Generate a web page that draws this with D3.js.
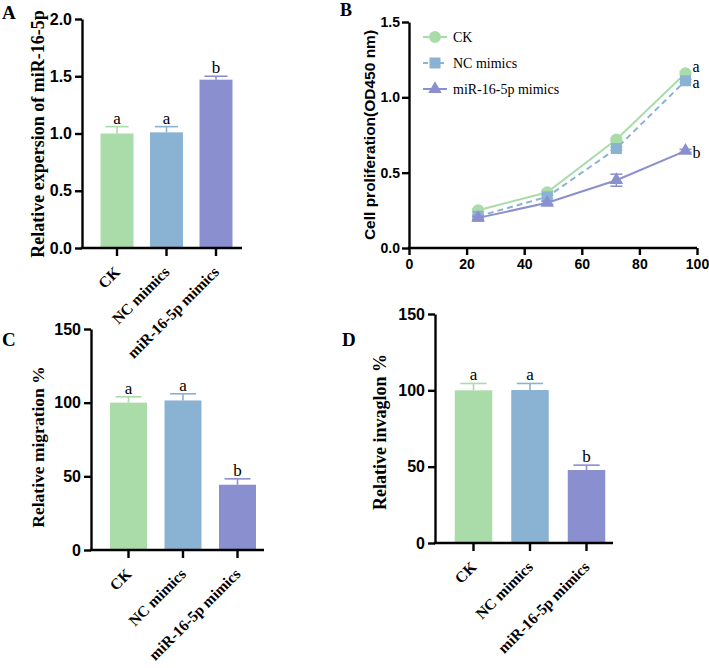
<!DOCTYPE html>
<html><head><meta charset="utf-8">
<script src="https://cdn.jsdelivr.net/npm/d3@7"></script>
<style>body{margin:0;background:#fff} svg{display:block}</style>
</head><body>
<svg id="chart" width="709" height="668"></svg>
<script>
// ---------- data ----------
const groups = ["CK", "NC mimics", "miR-16-5p mimics"];
const groupLetters = ["a", "a", "b"];

const expressionMean = [1.00, 1.01, 1.47];
const expressionErr  = [0.06, 0.05, 0.03];
const expressionTicks = [0, 0.5, 1.0, 1.5, 2.0];

const migrationMean = [100, 101.5, 44.3];
const migrationErr  = [4, 4.5, 4];
const invasionMean  = [100, 100.2, 47.8];
const invasionErr   = [4.5, 4.3, 3.2];
const percentTicks  = [0, 50, 100, 150];

const hours  = [24, 48, 72, 96];
const ckOD   = [0.25, 0.37, 0.72, 1.16];
const ncOD   = [0.21, 0.34, 0.66, 1.11];
const mirOD  = [0.20, 0.30, 0.45, 0.645];
const ckErr  = [0.01, 0.01, 0.01, 0.01];
const ncErr  = [0.01, 0.01, 0.01, 0.01];
const mirErr = [0.01, 0.01, 0.04, 0.01];
const hourTicks = [0, 20, 40, 60, 80, 100];
const odTicks = [0, 0.5, 1.0, 1.5];

// ---------- style ----------
const colors = ["#a9dca9", "#8ab3d3", "#8a8fcf"];
const SERIF = "'Liberation Serif','Times New Roman',serif";
const SANS = "'Liberation Sans',Arial,sans-serif";
const AXW = 2.4;

const svg = d3.select("#chart");

function styleAxis(a, fontSize) {
  a.selectAll(".domain").attr("stroke", "#000").attr("stroke-width", AXW);
  a.selectAll(".tick line").attr("stroke", "#000").attr("stroke-width", AXW);
  a.selectAll(".tick text").attr("font-family", SANS).attr("font-weight", "bold")
    .attr("font-size", fontSize).attr("fill", "#000");
}

function barPanel(cfg, means, errs, letters, ticks, fmt, yLabel) {
  const g = svg.append("g");
  const y = d3.scaleLinear().domain(cfg.domain).range([cfg.y0, cfg.y1]);
  const p = 1 - cfg.bw / cfg.step;
  const x = d3.scaleBand().domain(groups)
    .range([cfg.c0 - cfg.step / 2, cfg.c0 + cfg.step * (groups.length - 0.5)])
    .paddingInner(p).paddingOuter(p / 2);
  const bw = x.bandwidth();

  g.selectAll("rect.bar").data(groups).join("rect").attr("class", "bar")
    .attr("x", d => x(d)).attr("width", bw)
    .attr("y", (d, i) => y(means[i])).attr("height", (d, i) => y(0) - y(means[i]))
    .attr("fill", (d, i) => colors[i]);

  // error bars
  const eb = g.selectAll("g.err").data(groups).join("g").attr("class", "err")
    .attr("stroke", (d, i) => colors[i]).attr("stroke-width", 1.6);
  eb.append("line").attr("x1", d => x(d) + bw / 2).attr("x2", d => x(d) + bw / 2)
    .attr("y1", (d, i) => y(means[i])).attr("y2", (d, i) => y(means[i] + errs[i]));
  eb.append("line").attr("x1", d => x(d) + bw * 0.15).attr("x2", d => x(d) + bw * 0.85)
    .attr("y1", (d, i) => y(means[i] + errs[i])).attr("y2", (d, i) => y(means[i] + errs[i]));

  g.selectAll("text.sig").data(groups).join("text").attr("class", "sig")
    .attr("x", d => x(d) + bw / 2).attr("y", (d, i) => y(means[i] + errs[i]) - 3)
    .attr("text-anchor", "middle").attr("font-family", SERIF).attr("font-size", 17)
    .text((d, i) => letters[i]);

  const ya = g.append("g").attr("transform", `translate(${cfg.ax},0)`)
    .call(d3.axisLeft(y).tickValues(ticks).tickFormat(fmt).tickSize(7).tickSizeOuter(0).tickPadding(3));
  styleAxis(ya, 16);

  const xa = g.append("g").attr("transform", `translate(0,${cfg.y0})`)
    .call(d3.axisBottom(x).tickSize(8).tickSizeOuter(0));
  styleAxis(xa, 16);
  xa.select(".domain").attr("d", `M${cfg.ax - AXW / 2},0H${cfg.axEnd}`);
  xa.selectAll(".tick text").attr("x", 0).attr("y", 0).attr("dy", 0)
    .attr("transform", "translate(4,25) rotate(-45)").attr("text-anchor", "end")
    .attr("font-family", SERIF).attr("font-size", cfg.xfs);

  g.append("text").attr("transform", `translate(${cfg.lx},${cfg.ly}) rotate(-90)`)
    .attr("text-anchor", "middle").attr("dy", "0.35em")
    .attr("font-family", SERIF).attr("font-weight", "bold").attr("font-size", cfg.lfs)
    .text(yLabel);

  g.append("text").attr("x", cfg.px).attr("y", cfg.py)
    .attr("font-family", SERIF).attr("font-weight", "bold").attr("font-size", 19)
    .text(cfg.panel);
}

// Panel A
barPanel({panel: "A", px: 2, py: 19, domain: [0, 2], y0: 248, y1: 19, ax: 82, axEnd: 242,
          c0: 117, step: 49.5, bw: 33, lx: 38, ly: 134, lfs: 18, xfs: 15.5},
  expressionMean, expressionErr, groupLetters, expressionTicks, d3.format(".1f"),
  "Relative expersion of miR-16-5p");

// Panel C
barPanel({panel: "C", px: 2, py: 346, domain: [0, 150], y0: 550, y1: 329, ax: 91, axEnd: 264,
          c0: 128.5, step: 54.5, bw: 37, lx: 38, ly: 447, lfs: 17.5, xfs: 15.5},
  migrationMean, migrationErr, groupLetters, percentTicks, d3.format("d"),
  "Relative migration %");

// Panel D
barPanel({panel: "D", px: 342, py: 346, domain: [0, 150], y0: 543, y1: 314, ax: 435, axEnd: 613,
          c0: 473.5, step: 56.5, bw: 37.5, lx: 380, ly: 432, lfs: 18, xfs: 15.5},
  invasionMean, invasionErr, groupLetters, percentTicks, d3.format("d"),
  "Relative invaglon %");

// Panel B : line chart
(function () {
  const g = svg.append("g");
  const x = d3.scaleLinear().domain([0, 100]).range([409, 697]);
  const y = d3.scaleLinear().domain([0, 1.5]).range([248, 22]);
  const series = [
    {name: groups[0], vals: ckOD, err: ckErr, color: colors[0], dash: null, shape: d3.symbolCircle, size: 113},
    {name: groups[1], vals: ncOD, err: ncErr, color: colors[1], dash: "6,4", shape: d3.symbolSquare, size: 121},
    {name: groups[2], vals: mirOD, err: mirErr, color: colors[2], dash: null, shape: d3.symbolTriangle, size: 80}
  ];
  const line = d3.line().x((d, i) => x(hours[i])).y(d => y(d));

  series.forEach(s => {
    g.append("path").datum(s.vals).attr("d", line).attr("fill", "none")
      .attr("stroke", s.color).attr("stroke-width", 2).attr("stroke-dasharray", s.dash);
    const e = g.append("g").attr("stroke", s.color).attr("stroke-width", 1.5);
    s.vals.forEach((v, i) => {
      const cx = x(hours[i]);
      e.append("line").attr("x1", cx).attr("x2", cx).attr("y1", y(v - s.err[i])).attr("y2", y(v + s.err[i]));
      e.append("line").attr("x1", cx - 6).attr("x2", cx + 6).attr("y1", y(v + s.err[i])).attr("y2", y(v + s.err[i]));
      e.append("line").attr("x1", cx - 6).attr("x2", cx + 6).attr("y1", y(v - s.err[i])).attr("y2", y(v - s.err[i]));
    });
    g.selectAll(null).data(s.vals).join("path")
      .attr("transform", (d, i) => `translate(${x(hours[i])},${y(d)})`)
      .attr("d", d3.symbol(s.shape, s.size)).attr("fill", s.color);
  });

  // significance letters
  const offs = [-1, 7, 7];
  series.forEach((s, k) => {
    g.append("text").attr("x", x(hours[hours.length - 1]) + 7)
      .attr("y", y(s.vals[s.vals.length - 1]) + offs[k])
      .attr("font-family", SERIF).attr("font-size", 16).text(groupLetters[k]);
  });

  // legend
  series.forEach((s, k) => {
    const ly = 37 + k * 26;
    const lg = g.append("g").attr("transform", `translate(423,${ly})`);
    lg.append("line").attr("x1", 0).attr("x2", 24).attr("y1", 0).attr("y2", 0)
      .attr("stroke", s.color).attr("stroke-width", 2).attr("stroke-dasharray", s.dash ? "5,3" : null);
    lg.append("path").attr("transform", "translate(12,0)").attr("d", d3.symbol(s.shape, s.size)).attr("fill", s.color);
    lg.append("text").attr("x", 30).attr("y", 0).attr("dy", "0.35em")
      .attr("font-family", SERIF).attr("font-size", 14).text(s.name);
  });

  const xa = g.append("g").attr("transform", "translate(0,248)")
    .call(d3.axisBottom(x).tickValues(hourTicks).tickSize(7).tickSizeOuter(0).tickPadding(4));
  styleAxis(xa, 14);
  xa.select(".domain").attr("d", `M${409 - AXW / 2},0H697`);
  const ya = g.append("g").attr("transform", "translate(409,0)")
    .call(d3.axisLeft(y).tickValues(odTicks).tickFormat(d3.format(".1f")).tickSize(7).tickSizeOuter(0).tickPadding(2));
  styleAxis(ya, 14);

  g.append("text").attr("transform", "translate(370,135) rotate(-90)")
    .attr("text-anchor", "middle").attr("dy", "0.35em")
    .attr("font-family", SANS).attr("font-weight", "bold").attr("font-size", 15.5)
    .text("Cell proliferation(OD450 nm)");
  g.append("text").attr("x", 340).attr("y", 16)
    .attr("font-family", SERIF).attr("font-weight", "bold").attr("font-size", 18).text("B");
})();
</script>
</body></html>
